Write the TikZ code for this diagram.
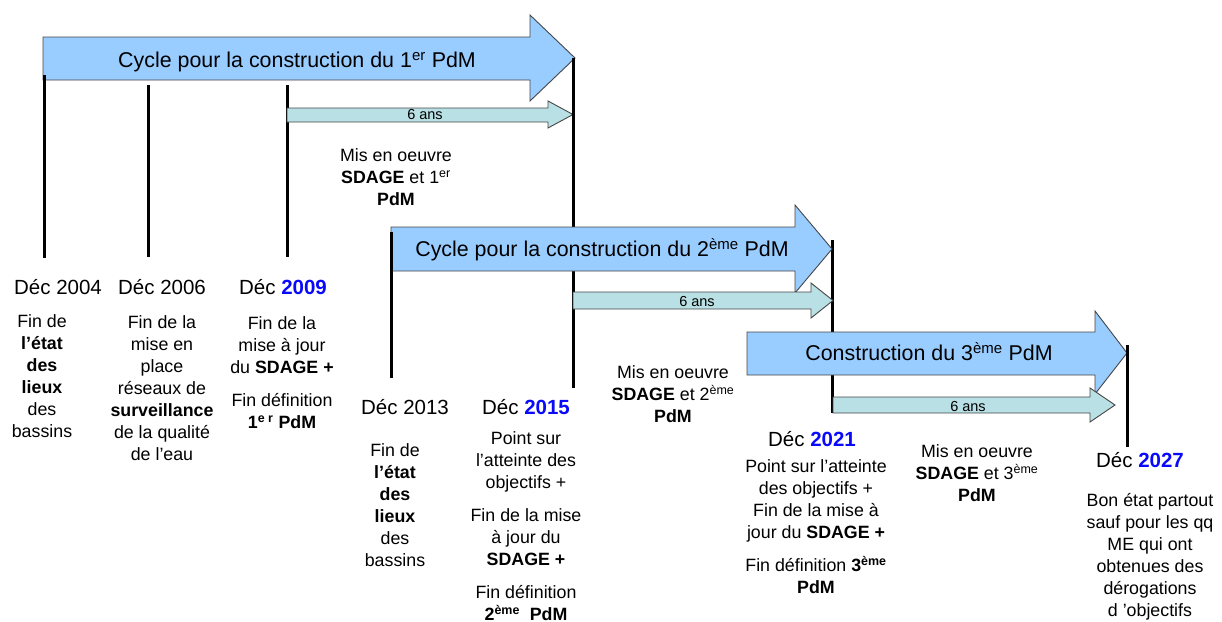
\documentclass[tikz,border=0pt]{standalone}
\usepackage{fontspec}
\setmainfont{Liberation Sans}
\definecolor{bigfill}{RGB}{153,204,255}
\definecolor{smallfill}{RGB}{185,224,228}
\definecolor{yearblue}{RGB}{10,10,250}
\definecolor{edgegray}{RGB}{70,70,70}
\newcommand\yr[1]{\textcolor{yearblue}{\textbf{#1}}}
\tikzset{
  tick/.style={line width=3pt, black},
  bigarr/.style={draw=edgegray, fill=bigfill, line width=0.9pt, line join=miter},
  smallarr/.style={draw=edgegray, fill=smallfill, line width=0.9pt, line join=miter},
  datelbl/.style={font=\fontsize{20.5}{24}\selectfont, anchor=base, inner sep=0pt},
  desc/.style={font=\fontsize{17.8}{22}\selectfont, align=center, inner sep=0pt},
  arrtext/.style={font=\fontsize{21.4}{25}\selectfont, anchor=base, inner sep=0pt},
  smalltext/.style={font=\fontsize{14.5}{17}\selectfont, anchor=base, inner sep=0pt}
}
\begin{document}
\begin{tikzpicture}[x=1pt, y=-1pt]
\useasboundingbox (0,0) rectangle (1222,621);
% ---- cycle 1
\draw[bigarr] (43,37) -- (530,37) -- (530,15) -- (575,58) -- (530,101) -- (530,80) -- (43,80) -- cycle;
\node[arrtext] (t1) at (297,67.7) {Cycle pour la construction du 1\textsuperscript{er} PdM};
\coordinate (l1a) at (44,75);   \coordinate (l1b) at (44,258);
\coordinate (l2a) at (148,85);  \coordinate (l2b) at (148,257);
\coordinate (l3a) at (287,85);  \coordinate (l3b) at (287,257);
\coordinate (l4a) at (573,58);  \coordinate (l4b) at (573,388);
\draw[tick] (l1a) -- (l1b);
\draw[tick] (l2a) -- (l2b);
\draw[tick] (l3a) -- (l3b);
\draw[smallarr] (287,108) -- (548,108) -- (548,101) -- (573,114.5) -- (548,128) -- (548,122) -- (287,122) -- cycle;
\node[smalltext] (s1) at (425,119.5) {6 ans};
\draw[tick] (l4a) -- (l4b);
\node[desc] (m1) at (396,177) {Mis en oeuvre\\\textbf{SDAGE} et 1\textsuperscript{er}\\\textbf{PdM}};
% ---- cycle 2
\coordinate (l6a) at (832,240); \coordinate (l6b) at (832,413);
\draw[tick] (l6a) -- (l6b);
\draw[bigarr] (391,227) -- (795,227) -- (795,205) -- (832,249) -- (795,293) -- (795,271) -- (391,271) -- cycle;
\node[arrtext] (t2) at (602,256.7) {Cycle pour la construction du 2\textsuperscript{ème} PdM};
\draw[smallarr] (573,292) -- (811,292) -- (811,283) -- (833,300.5) -- (811,318) -- (811,309) -- (573,309) -- cycle;
\node[smalltext] (s2) at (697,306.5) {6 ans};
\coordinate (l5a) at (391,232); \coordinate (l5b) at (391,378);
\draw[tick] (l5a) -- (l5b);
\node[desc] (m2) at (673,394) {Mis en oeuvre\\\textbf{SDAGE} et 2\textsuperscript{ème}\\\textbf{PdM}};
% ---- cycle 3
\draw[bigarr] (747,332) -- (1095,332) -- (1095,311) -- (1127,353) -- (1095,394) -- (1095,375) -- (747,375) -- cycle;
\node[arrtext] (t3) at (929,360.7) {Construction du 3\textsuperscript{ème} PdM};
\draw[smallarr] (833,397) -- (1090,397) -- (1090,388) -- (1115,405) -- (1090,422) -- (1090,413) -- (833,413) -- cycle;
\node[smalltext] (s3) at (968,411.5) {6 ans};
\coordinate (l7a) at (1127,345); \coordinate (l7b) at (1127,447);
\draw[tick] (l7a) -- (l7b);
\node[desc] (m3) at (977,473) {Mis en oeuvre\\\textbf{SDAGE} et 3\textsuperscript{ème}\\\textbf{PdM}};
% ---- dates
\node[datelbl] (d2004) at (58,294.4) {Déc 2004};
\node[datelbl] (d2006) at (162,294.4) {Déc 2006};
\node[datelbl] (d2009) at (283,294.4) {Déc \yr{2009}};
\node[datelbl] (d2013) at (405,414.4) {Déc 2013};
\node[datelbl] (d2015) at (526,414.4) {Déc \yr{2015}};
\node[datelbl] (d2021) at (812,446.4) {Déc \yr{2021}};
\node[datelbl] (d2027) at (1140,467.4) {Déc \yr{2027}};
% ---- descriptions
\node[desc] (e2004) at (42,376) {Fin de\\\textbf{l’état}\\\textbf{des}\\\textbf{lieux}\\des\\bassins};
\node[desc] (e2006) at (162,388) {Fin de la\\mise en\\place\\réseaux de\\\textbf{surveillance}\\de la qualité\\de l’eau};
\node[desc] (e2009) at (282,373) {Fin de la\\mise à jour\\du \textbf{SDAGE +}\\[11pt]Fin définition\\\textbf{1\textsuperscript{e r} PdM}};
\node[desc] (e2013) at (395,505) {Fin de\\\textbf{l’état}\\\textbf{des}\\\textbf{lieux}\\des\\bassins};
\node[desc] (e2015) at (526,526.5) {Point sur\\l’atteinte des\\objectifs +\\[11pt]Fin de la mise\\à jour du\\\textbf{SDAGE +}\\[11pt]Fin définition\\\textbf{2\textsuperscript{ème}\ \ PdM}};
\node[desc] (e2021) at (816,527) {Point sur l’atteinte\\des objectifs +\\Fin de la mise à\\jour du \textbf{SDAGE +}\\[11pt]Fin définition \textbf{3\textsuperscript{ème}}\\\textbf{PdM}};
\node[desc] (e2027) at (1150,557) {Bon état partout\\sauf pour les qq\\ME qui ont\\obtenues des\\dérogations\\d ’objectifs};
\end{tikzpicture}
\end{document}
